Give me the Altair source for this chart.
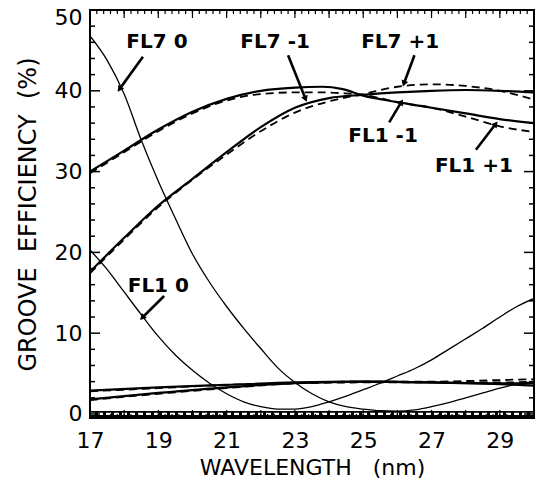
import math
import altair as alt
import pandas as pd
import numpy as np

# ---------------- data ----------------
up_x = [17, 18, 19, 20, 21, 22, 23, 23.8, 24.4, 25, 26, 27, 28, 29, 30]
up_solid = [30.0, 32.6, 35.2, 37.4, 39.0, 40.0, 40.4, 40.5, 40.2, 39.4, 38.6, 37.9, 37.2, 36.5, 36.0]
up_dash = [29.8, 32.4, 35.0, 37.2, 38.8, 39.6, 39.8, 39.8, 39.7, 39.5, 38.6, 37.9, 36.8, 35.6, 34.9]

lo_x = [17, 18, 19, 20, 21, 22, 23, 24, 25, 26, 27, 28, 29, 30]
lo_solid = [17.6, 21.8, 25.8, 29.1, 32.4, 35.5, 37.9, 39.1, 39.5, 39.8, 40.0, 40.1, 40.0, 39.8]
lo_dash = [17.4, 21.6, 25.6, 29.0, 32.1, 35.0, 37.3, 38.7, 39.6, 40.5, 40.8, 40.6, 40.0, 38.9]

z_x = [17, 17.5, 18, 18.5, 19, 19.5, 20, 20.5, 21, 21.5, 22, 22.5, 23, 23.5, 24,
       24.5, 25, 25.5, 26, 26.5, 27, 27.5, 28, 28.5, 29, 29.5, 30]
fl7_0 = [46.8, 43.8, 39.6, 33.9, 28.8, 24.2, 19.8, 16.3, 13.3, 10.6, 8.1, 5.7, 3.9, 2.5, 1.5,
         0.9, 0.6, 0.4, 0.35, 0.5, 0.9, 1.4, 2.0, 2.6, 3.2, 3.7, 4.0]
fl1_0 = [20.3, 17.9, 15.1, 12.3, 9.6, 7.3, 5.4, 3.8, 2.5, 1.5, 0.9, 0.6, 0.6, 0.9, 1.5,
         2.2, 3.0, 3.8, 4.7, 5.6, 6.7, 8.0, 9.3, 10.6, 12.0, 13.3, 14.3]

f_x = [17, 19, 21, 23, 25, 27, 29, 30]
flat_a = [2.9, 3.3, 3.6, 3.9, 4.0, 3.9, 3.7, 3.5]
flat_b = [2.8, 3.2, 3.6, 3.8, 3.9, 3.9, 3.9, 4.0]
flat_c = [1.8, 2.6, 3.3, 3.8, 4.0, 3.9, 3.8, 3.8]
flat_d = [1.7, 2.5, 3.2, 3.8, 4.0, 4.0, 4.2, 4.3]

zero_x = [17, 30]
zero_y = [0.0, 0.0]

lab_text = ["FL7 0", "FL7 -1", "FL7 +1", "FL1 -1", "FL1 +1", "FL1 0"]
lab_x = [18.96, 22.42, 26.08, 25.58, 28.24, 19.0]
lab_y = [46.0, 46.0, 46.0, 34.4, 30.7, 15.8]
arr_x1 = [18.55, 22.8, 26.5, 25.76, 28.3, 19.17]
arr_y1 = [44.2, 44.4, 44.4, 36.1, 32.7, 14.6]
arr_x2 = [17.88, 23.3, 26.2, 26.1, 28.86, 18.55]
arr_y2 = [40.3, 39.1, 41.0, 38.5, 35.8, 12.0]

x_labels = [17, 19, 21, 23, 25, 27, 29]
y_labels = [0, 10, 20, 30, 40, 50]

# ---------------- layout ----------------
W, H = 444, 408
XD = [17, 30]
YD = [-0.5, 50]
xs = alt.Scale(domain=XD, nice=False, zero=False)
ys = alt.Scale(domain=YD, nice=False, zero=False)
FONT = "DejaVu Sans"
NB = "\u00a0"


def long_df(xv, named):
    rows = []
    for name, yv in named.items():
        for a, b in zip(xv, yv):
            rows.append({"series": name, "x": a, "y": b})
    return pd.DataFrame(rows)


thick_solid = pd.concat([long_df(up_x, {"up_s": up_solid}), long_df(lo_x, {"lo_s": lo_solid}),
                         long_df(f_x, {"fa": flat_a, "fc": flat_c})])
thick_dash = pd.concat([long_df(up_x, {"up_d": up_dash}), long_df(lo_x, {"lo_d": lo_dash}),
                        long_df(f_x, {"fb": flat_b, "fd": flat_d})])
thin = long_df(z_x, {"fl7_0": fl7_0, "fl1_0": fl1_0})
zero_df = long_df(zero_x, {"zero": zero_y})

axis_x = alt.Axis(values=x_labels, ticks=False, domain=False, grid=False, labelFlush=False,
                  labelFont=FONT, labelFontSize=22, labelColor="black", labelPadding=12,
                  title="WAVELENGTH" + NB * 3 + "(nm)", titleFont=FONT, titleFontSize=22,
                  titleFontWeight="normal", titleColor="black", titlePadding=6)
axis_y = alt.Axis(values=y_labels, ticks=False, domain=False, grid=False,
                  labelFont=FONT, labelFontSize=22, labelColor="black", labelPadding=8,
                  labelOffset={"condition": {"test": "datum.value == 50", "value": 7}, "value": 0},
                  title="GROOVE" + NB * 2 + "EFFICIENCY" + NB * 2 + "(%)", titleFont=FONT,
                  titleFontSize=24, titleFontWeight="normal", titleColor="black",
                  titlePadding=14)

base_thin = alt.Chart(thin).mark_line(color="black", strokeWidth=1.3, interpolate="monotone", clip=True).encode(
    x=alt.X("x:Q", scale=xs, axis=axis_x),
    y=alt.Y("y:Q", scale=ys, axis=axis_y),
    detail="series:N",
)

solid = alt.Chart(thick_solid).mark_line(color="black", strokeWidth=2.2, interpolate="monotone", clip=True).encode(
    x=alt.X("x:Q", scale=xs), y=alt.Y("y:Q", scale=ys), detail="series:N")
dashed = alt.Chart(thick_dash).mark_line(color="black", strokeWidth=1.8, strokeDash=[8, 5],
                                        interpolate="monotone", clip=True).encode(
    x=alt.X("x:Q", scale=xs), y=alt.Y("y:Q", scale=ys), detail="series:N")

zero_black = alt.Chart(zero_df).mark_line(color="black", strokeWidth=6, clip=True).encode(
    x=alt.X("x:Q", scale=xs), y=alt.Y("y:Q", scale=ys))
zero_white = alt.Chart(zero_df).mark_line(color="white", strokeWidth=2.2, strokeDash=[5, 3], clip=True).encode(
    x=alt.X("x:Q", scale=xs), y=alt.Y("y:Q", scale=ys))

y_major = pd.DataFrame({"v": y_labels})
y_minor = pd.DataFrame({"v": [v for v in range(0, 51, 2) if v % 10 != 0]})
x_major = pd.DataFrame({"v": list(range(17, 31))})
x_minor = pd.DataFrame({"v": [round(v, 2) for v in np.arange(17, 30.001, 0.2)]})


def yticks(df, length):
    left = alt.Chart(df).mark_rule(color="black", strokeWidth=1.5).encode(
        y=alt.Y("v:Q", scale=ys), x=alt.value(0), x2=alt.value(length))
    right = alt.Chart(df).mark_rule(color="black", strokeWidth=1.5).encode(
        y=alt.Y("v:Q", scale=ys), x=alt.value(W), x2=alt.value(W - length))
    return left + right


def xticks(df, length):
    top = alt.Chart(df).mark_rule(color="black", strokeWidth=1.2).encode(
        x=alt.X("v:Q", scale=xs), y=alt.value(0), y2=alt.value(length))
    bottom = alt.Chart(df).mark_rule(color="black", strokeWidth=1.2).encode(
        x=alt.X("v:Q", scale=xs), y=alt.value(H), y2=alt.value(H - length))
    return top + bottom


ticks = yticks(y_major, 10) + yticks(y_minor, 5) + xticks(x_major, 8) + xticks(x_minor, 4)

px_per_x = W / (XD[1] - XD[0])
px_per_y = H / (YD[1] - YD[0])
angles = []
for a, b, c, d in zip(arr_x1, arr_y1, arr_x2, arr_y2):
    dx = (c - a) * px_per_x
    dy = -(d - b) * px_per_y
    angles.append(math.degrees(math.atan2(dx, -dy)) % 360)

ann = pd.DataFrame({"t": lab_text, "lx": lab_x, "ly": lab_y, "ax": arr_x1, "ay": arr_y1,
                    "bx": arr_x2, "by": arr_y2, "ang": angles})

texts = alt.Chart(ann).mark_text(font=FONT, fontWeight="bold", fontSize=20, color="black",
                                 align="center", baseline="middle").encode(
    x=alt.X("lx:Q", scale=xs), y=alt.Y("ly:Q", scale=ys), text="t:N")
arrows = alt.Chart(ann).mark_rule(color="black", strokeWidth=2.6).encode(
    x=alt.X("ax:Q", scale=xs), y=alt.Y("ay:Q", scale=ys),
    x2=alt.X2("bx:Q"), y2=alt.Y2("by:Q"))
heads = alt.Chart(ann).mark_point(shape="triangle", filled=True, color="black", size=50, opacity=1).encode(
    x=alt.X("bx:Q", scale=xs), y=alt.Y("by:Q", scale=ys), angle=alt.Angle("ang:Q", scale=None))

chart = alt.layer(
    base_thin, zero_black, zero_white, solid, dashed, ticks, arrows, heads, texts
).properties(
    width=W, height=H,
    autosize=alt.AutoSizeParams(type="none"),
    padding={"left": 90, "top": 10, "right": 2, "bottom": 69},
    background="white",
).configure_view(stroke="black", strokeWidth=2)

chart.save("out.html", embed_options={"renderer": "svg", "actions": False})
